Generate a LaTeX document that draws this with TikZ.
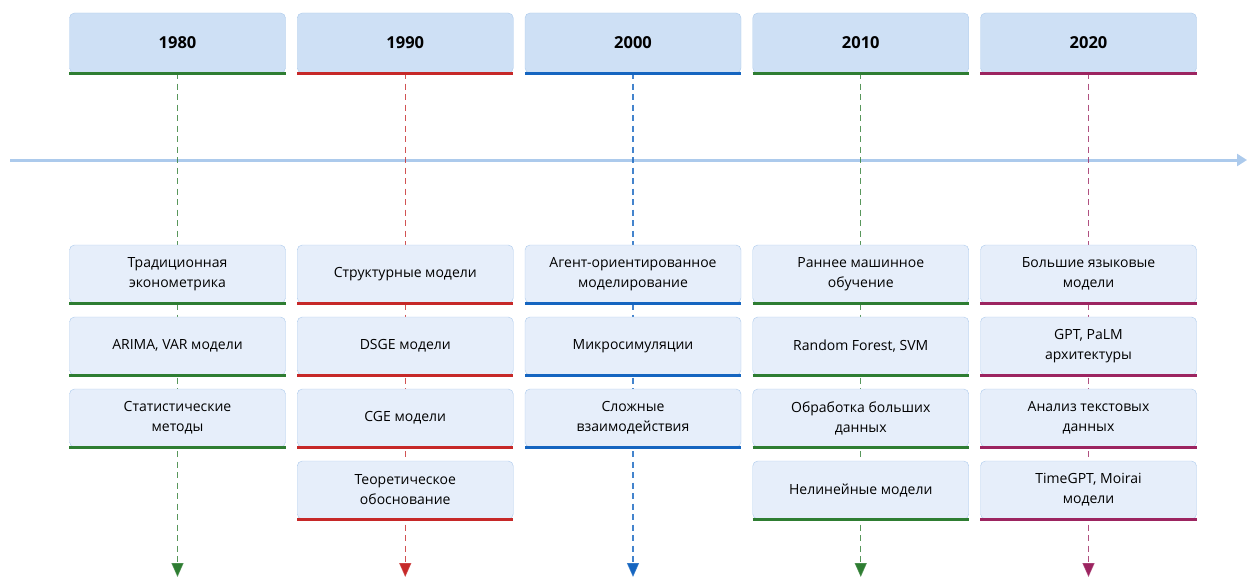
\documentclass[tikz,border=0pt]{standalone}
\usepackage{fontspec}
\setmainfont{Open Sans}
\definecolor{erahead}{RGB}{206,224,245}
\definecolor{erabox}{RGB}{230,238,250}
\definecolor{eraedge}{RGB}{172,202,236}
\definecolor{eragreen}{RGB}{46,125,50}
\definecolor{erared}{RGB}{198,40,40}
\definecolor{erablue}{RGB}{21,101,192}
\definecolor{eraplum}{RGB}{156,36,96}
\usetikzlibrary{arrows.meta,positioning}

\begin{document}
\begin{tikzpicture}[x=1pt, y=-1pt,
  yearbox/.style={
    rectangle, rounded corners=5pt,
    minimum width=216pt, minimum height=60pt, inner sep=0pt,
    draw=eraedge, fill=erahead,
    font=\fontsize{16.5}{20}\selectfont\bfseries,
    append after command={(\tikzlastnode.south west) edge[draw=#1, line width=3pt] (\tikzlastnode.south east)}
  },
  stagebox/.style={
    rectangle, rounded corners=5pt,
    minimum width=216pt, minimum height=58pt, inner sep=0pt,
    draw=eraedge, fill=erabox,
    font=\fontsize{14}{20}\selectfont, align=center,
    append after command={(\tikzlastnode.south west) edge[draw=#1, line width=3pt] (\tikzlastnode.south east)}
  },
  eraline/.style={draw=#1, draw opacity=0.8, line width=1.3pt, dash pattern=on 6pt off 4.5pt,
    -{Triangle[length=14pt, width=12pt]}},
  timeline/.style={draw=eraedge, line width=3pt, -{Triangle[length=10pt, width=12pt]}}
]
\useasboundingbox (0,0) rectangle (1247,578);

% years
\node[yearbox=eragreen] (y1) at (177.5,43)  {1980};
\node[yearbox=erared]   (y2) at (405.25,43) {1990};
\node[yearbox=erablue]  (y3) at (633,43)    {2000};
\node[yearbox=eragreen] (y4) at (860.75,43) {2010};
\node[yearbox=eraplum]  (y5) at (1088.5,43) {2020};

\coordinate (t0) at (10,160);
\coordinate (t1) at (1247,160);
\draw[timeline] (t0) -- (t1);

\coordinate (e1) at (177.5,577);
\coordinate (e2) at (405.25,577);
\coordinate (e3) at (633,577);
\coordinate (e4) at (860.75,577);
\coordinate (e5) at (1088.5,577);

\draw[eraline=eragreen] (y1) -- (e1);
\draw[eraline=erared]   (y2) -- (e2);
\draw[eraline=erablue]  (y3) -- (e3);
\draw[eraline=eragreen] (y4) -- (e4);
\draw[eraline=eraplum]  (y5) -- (e5);

% 1980
\node[stagebox=eragreen] (a1) at (177.5,274) {Традиционная\\эконометрика};
\node[stagebox=eragreen] (a2) at (177.5,346) {ARIMA, VAR модели};
\node[stagebox=eragreen] (a3) at (177.5,418) {Статистические\\методы};

% 1990
\node[stagebox=erared] (b1) at (405.25,274) {Структурные модели};
\node[stagebox=erared] (b2) at (405.25,346) {DSGE модели};
\node[stagebox=erared] (b3) at (405.25,418) {CGE модели};
\node[stagebox=erared] (b4) at (405.25,490) {Теоретическое\\обоснование};

% 2000
\node[stagebox=erablue] (c1) at (633,274) {Агент-ориентированное\\моделирование};
\node[stagebox=erablue] (c2) at (633,346) {Микросимуляции};
\node[stagebox=erablue] (c3) at (633,418) {Сложные\\взаимодействия};

% 2010
\node[stagebox=eragreen] (d1) at (860.75,274) {Раннее машинное\\обучение};
\node[stagebox=eragreen] (d2) at (860.75,346) {Random Forest, SVM};
\node[stagebox=eragreen] (d3) at (860.75,418) {Обработка больших\\данных};
\node[stagebox=eragreen] (d4) at (860.75,490) {Нелинейные модели};

% 2020
\node[stagebox=eraplum] (f1) at (1088.5,274) {Большие языковые\\модели};
\node[stagebox=eraplum] (f2) at (1088.5,346) {GPT, PaLM\\архитектуры};
\node[stagebox=eraplum] (f3) at (1088.5,418) {Анализ текстовых\\данных};
\node[stagebox=eraplum] (f4) at (1088.5,490) {TimeGPT, Moirai\\модели};
\end{tikzpicture}
\end{document}
